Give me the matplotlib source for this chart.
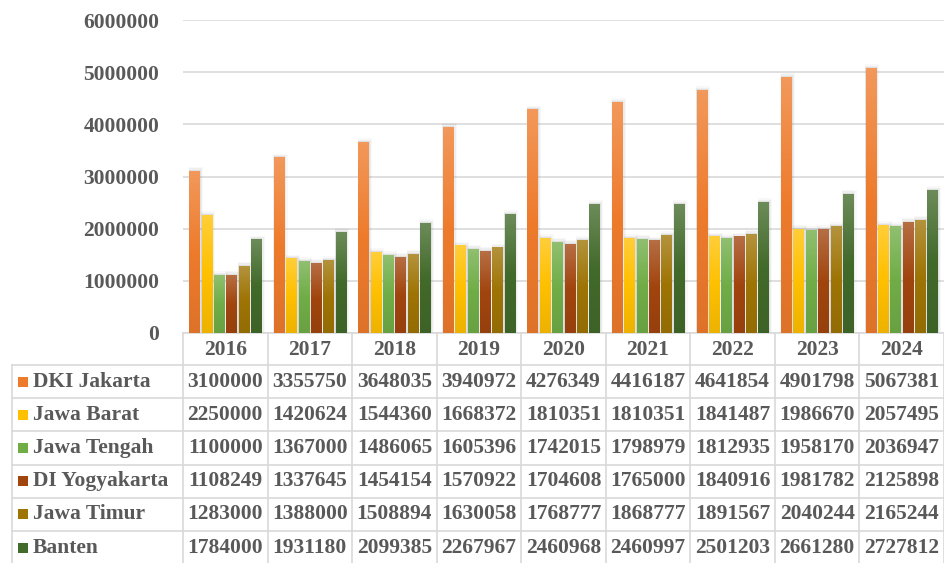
import numpy as np
import matplotlib
matplotlib.use("Agg")
import matplotlib.pyplot as plt
from matplotlib.colors import LinearSegmentedColormap, to_rgb
from matplotlib.patches import Rectangle
from matplotlib.lines import Line2D

years = ["2016", "2017", "2018", "2019", "2020", "2021", "2022", "2023", "2024"]
series_names = ["DKI Jakarta", "Jawa Barat", "Jawa Tengah", "DI Yogyakarta", "Jawa Timur", "Banten"]
dki_jakarta = [3100000, 3355750, 3648035, 3940972, 4276349, 4416187, 4641854, 4901798, 5067381]
jawa_barat = [2250000, 1420624, 1544360, 1668372, 1810351, 1810351, 1841487, 1986670, 2057495]
jawa_tengah = [1100000, 1367000, 1486065, 1605396, 1742015, 1798979, 1812935, 1958170, 2036947]
di_yogyakarta = [1108249, 1337645, 1454154, 1570922, 1704608, 1765000, 1840916, 1981782, 2125898]
jawa_timur = [1283000, 1388000, 1508894, 1630058, 1768777, 1868777, 1891567, 2040244, 2165244]
banten = [1784000, 1931180, 2099385, 2267967, 2460968, 2460997, 2501203, 2661280, 2727812]
series_values = [dki_jakarta, jawa_barat, jawa_tengah, di_yogyakarta, jawa_timur, banten]
colors = ["#EE7B2C", "#FFC000", "#70AD47", "#A1450E", "#9E7405", "#426A2A"]
y_ticks = [0, 1000000, 2000000, 3000000, 4000000, 5000000, 6000000]

W, H = 944, 563
DPI = 100
fig = plt.figure(figsize=(W / DPI, H / DPI), dpi=DPI)
FONT = ["Liberation Serif", "DejaVu Serif"]
TXT = "#595959"

def fx(x):
    return x / W

def fy(y):
    return 1 - y / H

ax_left, ax_right, ax_top, ax_bot = 183, 944, 20, 333
ax = fig.add_axes([fx(ax_left), fy(ax_bot), fx(ax_right) - fx(ax_left), fy(ax_top) - fy(ax_bot)])

n_cat = len(years)
n_ser = len(series_names)
slot = 0.146
bw = 0.122

def lighten(c, f):
    r = np.array(to_rgb(c))
    return tuple(r + (1 - r) * f)

def darken(c, f):
    r = np.array(to_rgb(c))
    return tuple(r * (1 - f))

grad = np.linspace(0, 1, 64).reshape(-1, 1)
for j, (vals, col) in enumerate(zip(series_values, colors)):
    cmap = LinearSegmentedColormap.from_list(
        "g%d" % j, [darken(col, 0.07), col, lighten(col, 0.22)])
    for i, v in enumerate(vals):
        x0 = i + (j - (n_ser - 1) / 2) * slot - bw / 2
        # soft shadow
        for k, a in enumerate([0.12, 0.08, 0.05]):
            d = 0.009 * (k + 1)
            ax.add_patch(Rectangle((x0 - d * 0.3, 0), bw + d * 1.8, v + 28000 * (k + 1),
                                   facecolor="#7f7f7f", edgecolor="none", alpha=a, zorder=2))
        ax.imshow(grad, extent=[x0, x0 + bw, 0, v], origin="lower", aspect="auto",
                  cmap=cmap, zorder=3, interpolation="bilinear")

ax.set_xlim(-0.5, n_cat - 0.5)
ax.set_ylim(0, 6000000)
ax.set_yticks(y_ticks)
ax.set_yticklabels([str(t) for t in y_ticks], fontfamily=FONT, fontweight="bold",
                   fontsize=15.5, color=TXT)
ax.tick_params(axis="y", length=0, pad=17)
ax.set_xticks([])
ax.yaxis.grid(True, color="#d9d9d9", linewidth=1.2, zorder=0)
ax.set_axisbelow(True)
for s in ["top", "right", "left"]:
    ax.spines[s].set_visible(False)
ax.spines["bottom"].set_color("#d9d9d9")
ax.spines["bottom"].set_linewidth(1.2)

# ---- data table ----
LC = "#d9d9d9"
col_w = (ax_right - ax_left) / n_cat
row_top = 365
row_h = 33.2
tab_left = 12

def hline(x0, x1, y):
    fig.add_artist(Line2D([fx(x0), fx(x1)], [fy(y), fy(y)], color=LC, lw=1.2))

def vline(x, y0, y1):
    fig.add_artist(Line2D([fx(x), fx(x)], [fy(y0), fy(y1)], color=LC, lw=1.2))

for k in range(n_cat + 1):
    vline(ax_left + k * col_w, ax_bot, H)
vline(tab_left, row_top, H)
for r in range(n_ser):
    hline(tab_left, ax_right, row_top + r * row_h)

for i, yr in enumerate(years):
    fig.text(fx(ax_left + (i + 0.5) * col_w), fy(350), yr, ha="center", va="center",
             fontfamily=FONT, fontweight="bold", fontsize=15.5, color=TXT)

for r, (name, vals, col) in enumerate(zip(series_names, series_values, colors)):
    yc = row_top + (r + 0.5) * row_h
    fig.add_artist(Rectangle((fx(18), fy(yc + 5)), fx(10), 10 / H,
                             facecolor=col, edgecolor="none"))
    fig.text(fx(33), fy(yc), name, ha="left", va="center",
             fontfamily=FONT, fontweight="bold", fontsize=15.5, color=TXT)
    for i, v in enumerate(vals):
        fig.text(fx(ax_left + (i + 0.5) * col_w), fy(yc), str(v), ha="center", va="center",
                 fontfamily=FONT, fontweight="bold", fontsize=15.5, color=TXT)

fig.savefig("out.png", dpi=DPI)
